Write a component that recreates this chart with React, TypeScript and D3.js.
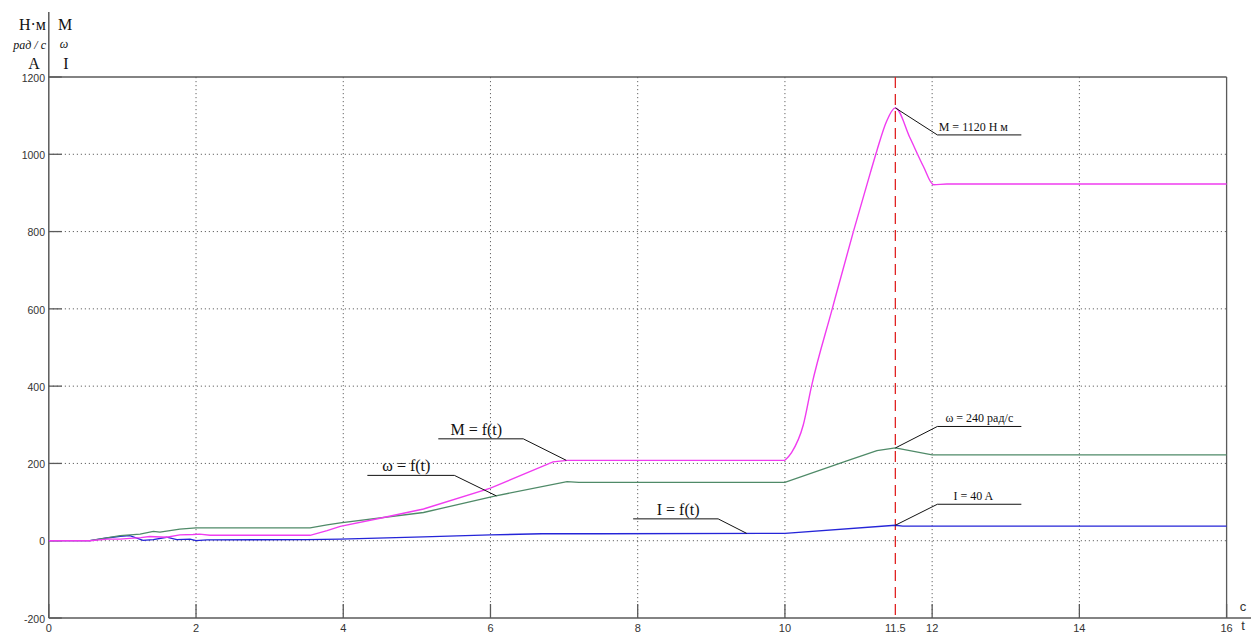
import React from "react";
import * as d3 from "d3";

const W = 1251;
const H = 633;

// Torque M, N·m
const mTime = [0, 0.56, 0.79, 0.97, 1.1, 1.25, 1.37, 1.6, 1.78, 1.96, 2.05, 2.19, 3.55, 3.78, 3.96, 4.5, 5.09, 6.0, 6.85, 7.04, 10.0, 10.09, 10.25, 10.36, 10.64, 10.93, 11.16, 11.25, 11.38, 11.5, 11.7, 11.88, 12.02, 12.2, 16];
const mValue = [0, 0, 4, 4, 6, 8, 11, 9, 15, 16, 17, 14, 14, 26, 37, 58, 82, 136, 204, 208, 208, 228, 300, 399, 598, 800, 952, 1010, 1085, 1120, 1042, 969, 921, 923, 923];

// Angular speed ω, rad/s
const wTime = [0, 0.56, 0.97, 1.24, 1.42, 1.51, 1.78, 2.0, 3.55, 3.78, 3.96, 5.09, 6.04, 7.04, 7.2, 10.0, 10.89, 11.25, 11.5, 12.0, 16];
const wValue = [0, 0, 13, 17, 24, 22, 30, 33, 33, 41, 46, 73, 115, 153, 151, 151, 210, 233, 240, 222, 222];

// Current I, A
const iTime = [0, 0.56, 0.79, 0.97, 1.1, 1.28, 1.42, 1.6, 1.74, 1.92, 2.0, 2.15, 3.5, 3.96, 5.09, 6.0, 6.7, 7.5, 10.0, 11.5, 11.6, 16];
const iValue = [0, 0, 7, 11, 13, 1, 3, 9, 3, 4, 0, 2, 3, 4, 10, 15, 18, 18, 19, 40, 38, 38];

// the torque surge after t = 10 s is drawn as a smooth curve
const surgeStart = 10.0;

const xTicks = [0, 2, 4, 6, 8, 10, 12, 14, 16];
const yTicks = [-200, 0, 200, 400, 600, 800, 1000, 1200];
const xGrid = [2, 4, 6, 8, 10, 12, 14];
const yGrid = [0, 200, 400, 600, 800, 1000];
const markerTime = 11.5;
const markerLabel = "11.5";

// Callouts: text, and the point on the curve each leader points to
const calloutText = ["M = 1120 Н м", "ω = 240 рад/с", "I = 40 A", "M = f(t)", "ω = f(t)", "I = f(t)"];
const calloutTime = [11.5, 11.5, 11.5, 7.03, 6.08, 9.48];
const calloutValue = [1120, 240, 40, 208, 116, 19];

// leader elbow offset, shelf length/direction, font size
const calloutLayout = [
  { dx: 42, dy: 27, len: 84, dir: 1, size: 12, tx: 36 },
  { dx: 42, dy: -21.5, len: 84, dir: 1, size: 12, tx: 42 },
  { dx: 42, dy: -21, len: 84, dir: 1, size: 12, tx: 36 },
  { dx: -43, dy: -21.5, len: 85, dir: -1, size: 16, tx: 47 },
  { dx: -42, dy: -20.5, len: 87, dir: -1, size: 16, tx: 48 },
  { dx: -28.5, dy: -14.5, len: 85, dir: -1, size: 16, tx: 40 },
];

const LEFT = 48.8;
const RIGHT = 1226.6;
const TOP = 77;
const BOTTOM = 618;

const x = d3.scaleLinear().domain([0, 16]).range([LEFT, RIGHT]);
const y = d3.scaleLinear().domain([-200, 1200]).range([BOTTOM, TOP]);

function pathFor(ts: number[], vs: number[], curve: d3.CurveFactory = d3.curveLinear) {
  const line = d3
    .line<number>()
    .x((_, i) => x(ts[i]))
    .y((v) => y(v))
    .curve(curve);
  return line(vs) || "";
}

// straight segments up to `split`, monotone spline after it
function splitPath(ts: number[], vs: number[], split: number) {
  const k = ts.findIndex((t) => t >= split);
  const a = pathFor(ts.slice(0, k + 1), vs.slice(0, k + 1));
  const b = pathFor(ts.slice(k), vs.slice(k), d3.curveMonotoneX);
  return a + b;
}

const serif = "'Liberation Serif', 'Times New Roman', serif";
const sans = "'Liberation Sans', Arial, sans-serif";
const axisColor = "#5a5a5a";

export default function App() {
  return (
    <svg
      width={W}
      height={H}
      viewBox={`0 0 ${W} ${H}`}
      style={{ position: "absolute", left: 0, top: 0, background: "#fff" }}
    >
      <rect x={0} y={0} width={W} height={H} fill="#fff" />

      {/* dotted grid */}
      {xGrid.map((t) => (
        <line key={"gx" + t} x1={x(t)} x2={x(t)} y1={TOP} y2={BOTTOM} stroke="#666" strokeWidth={1} strokeDasharray="1.2 2.8" />
      ))}
      {yGrid.map((v) => (
        <line key={"gy" + v} x1={LEFT} x2={RIGHT} y1={y(v)} y2={y(v)} stroke="#666" strokeWidth={1} strokeDasharray="1.2 2.8" />
      ))}

      {/* frame */}
      <line x1={LEFT} x2={RIGHT} y1={TOP} y2={TOP} stroke={axisColor} strokeWidth={1.3} />
      <line x1={RIGHT} x2={RIGHT} y1={TOP} y2={BOTTOM} stroke={axisColor} strokeWidth={1.3} />
      <line x1={LEFT} x2={W} y1={BOTTOM} y2={BOTTOM} stroke={axisColor} strokeWidth={1.5} />
      <line x1={LEFT} x2={LEFT} y1={12} y2={BOTTOM} stroke={axisColor} strokeWidth={1.5} />

      {/* ticks */}
      {yTicks.map((v) => (
        <g key={"ty" + v}>
          <line x1={LEFT} x2={LEFT + 13} y1={y(v)} y2={y(v)} stroke={axisColor} strokeWidth={1.3} />
          <text x={45} y={y(v) + 1} dy="0.35em" textAnchor="end" fontFamily={sans} fontSize={10.5} fill="#333">
            {v}
          </text>
        </g>
      ))}
      {xTicks.map((t) => (
        <g key={"tx" + t}>
          <line x1={x(t)} x2={x(t)} y1={BOTTOM} y2={BOTTOM - 14} stroke={axisColor} strokeWidth={1.3} />
          <text x={x(t)} y={628} dy="0.35em" textAnchor="middle" fontFamily={sans} fontSize={11} fill="#333">
            {t}
          </text>
        </g>
      ))}
      <text x={x(markerTime)} y={628} dy="0.35em" textAnchor="middle" fontFamily={sans} fontSize={11} fill="#333">
        {markerLabel}
      </text>

      {/* axis units */}
      <text x={1243} y={606} dy="0.35em" textAnchor="middle" fontFamily={sans} fontSize={13} fill="#333">c</text>
      <text x={1243} y={625} dy="0.35em" textAnchor="middle" fontFamily={sans} fontSize={13} fill="#333">t</text>

      <text x={46} y={29.5} textAnchor="end" fontFamily={serif} fontSize={16} fill="#111">Н·м</text>
      <text x={46} y={49} textAnchor="end" fontFamily={serif} fontStyle="italic" fontSize={12} fill="#111">рад / с</text>
      <text x={34} y={68.5} textAnchor="middle" fontFamily={serif} fontSize={16} fill="#111">А</text>
      <text x={65} y={29.5} textAnchor="middle" fontFamily={serif} fontSize={16} fill="#111">М</text>
      <text x={64} y={48} textAnchor="middle" fontFamily={serif} fontStyle="italic" fontSize={12} fill="#111">ω</text>
      <text x={66} y={68.5} textAnchor="middle" fontFamily={serif} fontSize={16} fill="#111">I</text>

      {/* time marker */}
      <line x1={x(markerTime)} x2={x(markerTime)} y1={TOP} y2={BOTTOM} stroke="#e02424" strokeWidth={1.3} strokeDasharray="11 6" />

      {/* curves */}
      <path d={pathFor(iTime, iValue)} fill="none" stroke="#2525d8" strokeWidth={1.3} />
      <path d={pathFor(wTime, wValue)} fill="none" stroke="#4f8a68" strokeWidth={1.3} />
      <path d={splitPath(mTime, mValue, surgeStart)} fill="none" stroke="#f03cf0" strokeWidth={1.4} />

      {/* callouts */}
      {calloutText.map((label, i) => {
        const L = calloutLayout[i];
        const ax = x(calloutTime[i]);
        const ay = y(calloutValue[i]);
        const ex = ax + L.dx;
        const ey = ay + L.dy;
        const sx = ex + L.dir * L.len;
        const tx = ex + L.dir * L.tx;
        return (
          <g key={"c" + i}>
            <polyline points={`${ax},${ay} ${ex},${ey} ${sx},${ey}`} fill="none" stroke="#111" strokeWidth={1} />
            <text x={tx} y={ey - 4} textAnchor="middle" fontFamily={serif} fontSize={L.size} fill="#111">
              {label}
            </text>
          </g>
        );
      })}
    </svg>
  );
}
